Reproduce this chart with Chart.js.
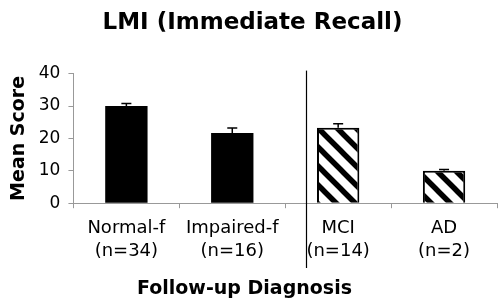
<!DOCTYPE html>
<html>
<head>
<meta charset="utf-8">
<script src="https://cdn.jsdelivr.net/npm/chart.js@4"></script>
<style>
  html, body { margin: 0; padding: 0; background: #fff; }
  #myChart { display: block; }
</style>
</head>
<body>
<canvas id="myChart" width="499" height="305"></canvas>
<script>
const groups = ['Normal-f', 'Impaired-f', 'MCI', 'AD'];
const counts = ['(n=34)', '(n=16)', '(n=14)', '(n=2)'];
const meanScores = [30, 21.7, 23.3, 10];
const errorUp = [0.8, 1.5, 1.2, 0.4];
const yTicks = [0, 10, 20, 30, 40];

// diagonal hatch for the follow-up groups
function makeHatch() {
  const size = 19;
  const c = document.createElement('canvas');
  c.width = size;
  c.height = size;
  const g = c.getContext('2d');
  g.fillStyle = '#fff';
  g.fillRect(0, 0, size, size);
  g.strokeStyle = '#000';
  g.lineWidth = 5.5;
  g.beginPath();
  g.moveTo(-size, 0); g.lineTo(size, 2 * size);
  g.moveTo(0, 0); g.lineTo(size, size);
  g.moveTo(0, -size); g.lineTo(2 * size, size);
  g.stroke();
  return g.createPattern(c, 'repeat');
}

document.addEventListener('DOMContentLoaded', function () {
  const ctx = document.getElementById('myChart');
  const hatch = makeHatch();

  const errorBars = {
    id: 'errorBars',
    afterDatasetsDraw(chart) {
      const meta = chart.getDatasetMeta(0);
      const y = chart.scales.y;
      const c = chart.ctx;
      c.save();
      c.strokeStyle = '#000';
      c.lineWidth = 1.5;
      meta.data.forEach((bar, i) => {
        const top = y.getPixelForValue(meanScores[i]);
        const end = y.getPixelForValue(meanScores[i] + errorUp[i]);
        c.beginPath();
        c.moveTo(bar.x, top);
        c.lineTo(bar.x, end);
        c.moveTo(bar.x - 5, end);
        c.lineTo(bar.x + 5, end);
        c.stroke();
      });
      c.restore();
    }
  };

  const extras = {
    id: 'extras',
    afterDraw(chart) {
      const c = chart.ctx;
      const x = chart.scales.x;
      c.save();
      // divider between baseline and follow-up groups
      const dx = Math.round(x.getPixelForValue(1.7)) + 0.5;
      c.strokeStyle = '#000';
      c.lineWidth = 1.2;
      c.beginPath();
      c.moveTo(dx, chart.chartArea.top - 3);
      c.lineTo(dx, 268);
      c.stroke();
      // x axis title
      c.fillStyle = '#000';
      c.font = 'bold 19px "DejaVu Sans"';
      c.textAlign = 'center';
      c.textBaseline = 'middle';
      c.fillText('Follow-up Diagnosis', chart.width / 2 - 5, 289);
      c.restore();
    }
  };

  new Chart(ctx, {
    type: 'bar',
    data: {
      labels: groups.map((g, i) => [g, counts[i]]),
      datasets: [{
        data: meanScores,
        backgroundColor: ['#000', '#000', hatch, hatch],
        borderColor: '#000',
        borderWidth: [0, 0, 2, 2],
        barPercentage: 0.4,
        categoryPercentage: 1.0
      }]
    },
    options: {
      responsive: false,
      animation: false,
      layout: { padding: { left: 8, right: 2, bottom: 34, top: 0 } },
      plugins: {
        legend: { display: false },
        tooltip: { enabled: false },
        title: {
          display: true,
          text: 'LMI (Immediate Recall)',
          color: '#000',
          font: { family: 'DejaVu Sans', size: 23, weight: 'bold' },
          padding: { top: 9, bottom: 37 }
        }
      },
      scales: {
        x: {
          grid: {
            display: true,
            drawOnChartArea: false,
            tickLength: 5,
            color: '#999'
          },
          border: { color: '#999' },
          ticks: {
            color: '#000',
            font: { family: 'DejaVu Sans', size: 18, lineHeight: 1.3 },
            maxRotation: 0,
            padding: 8
          }
        },
        y: {
          min: 0,
          max: 40,
          afterBuildTicks(axis) {
            axis.ticks = yTicks.map(v => ({ value: v }));
          },
          grid: {
            display: true,
            drawOnChartArea: false,
            tickLength: 5,
            color: '#999'
          },
          border: { color: '#999' },
          ticks: {
            color: '#000',
            font: { family: 'DejaVu Sans', size: 17 },
            padding: 8
          },
          title: {
            display: true,
            text: 'Mean Score',
            color: '#000',
            font: { family: 'DejaVu Sans', size: 19, weight: 'bold' },
            padding: { top: 0, bottom: 0 }
          }
        }
      }
    },
    plugins: [errorBars, extras]
  });
});
</script>
</body>
</html>
